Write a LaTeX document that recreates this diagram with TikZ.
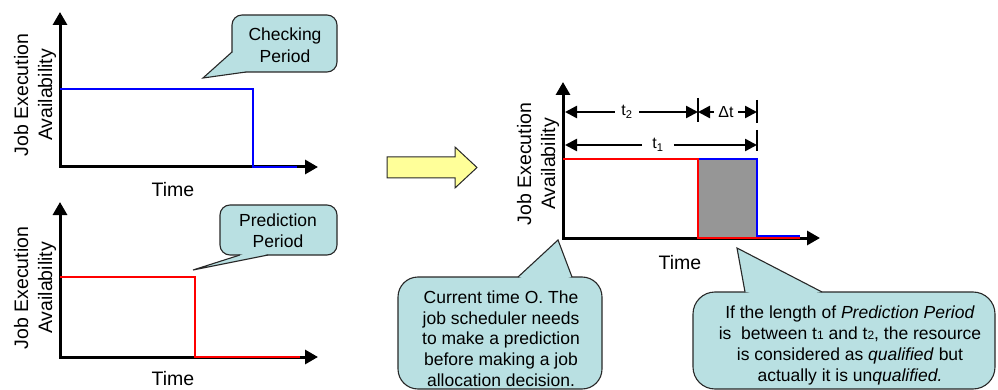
\documentclass[tikz,border=0pt]{standalone}
\usepackage{fontspec}
\setmainfont{Liberation Sans}
\usetikzlibrary{arrows.meta}

\definecolor{calloutfill}{RGB}{185,224,226}
\definecolor{arrowfill}{RGB}{255,255,153}
\definecolor{lossfill}{RGB}{150,150,150}
\definecolor{checkblue}{RGB}{0,0,255}
\definecolor{predred}{RGB}{255,0,0}
\definecolor{edgegray}{RGB}{40,40,40}

\tikzset{
  axis/.style={line width=3pt, line join=miter,
    {Triangle[length=13pt,width=14pt]}-{Triangle[length=13pt,width=14pt]}},
  availline/.style={line width=2.2pt, line join=miter},
  dimline/.style={line width=2.5pt, -{Triangle[length=12pt,width=12pt]}},
  tickline/.style={line width=1.2pt},
  axislabel/.style={font=\fontsize{19.5}{24}\selectfont, align=center, inner sep=0pt},
  ylabel/.style={axislabel, rotate=90},
  callbox/.style={fill=calloutfill, draw=edgegray, line width=1.1pt},
  calledge/.style={draw=edgegray, line width=1.1pt, line join=miter},
  calltext/.style={font=\fontsize{17.5}{20.7}\selectfont, align=center, inner sep=0pt},
  dimlabel/.style={font=\fontsize{16}{16}\selectfont, inner ysep=0pt},
}

\begin{document}
\begin{tikzpicture}[x=1pt,y=-1pt]
  \useasboundingbox (0,0) rectangle (998,390);
  \clip (0,0) rectangle (998,390);

  % ---------- checking period chart ----------
  \draw[axis] (60,12) -- (60,167) -- (318,167);
  \draw[availline, checkblue] (60,89) -- (253,89) -- (253,167) -- (297,167);
  \node[axislabel] (timeA) at (173,190) {Time};
  \node[ylabel] (yA) at (35,95) {Job Execution\\Availability};

  % callout: Checking Period
  \path[callbox, rounded corners=10pt] (232,15) rectangle (337,72);
  \coordinate (chkB1) at (232,52);
  \coordinate (chkTip) at (203,78);
  \coordinate (chkB2) at (246,72);
  \fill[calloutfill] (chkB1) -- (chkTip) -- (chkB2) -- (240,64) -- cycle;
  \draw[calledge] (chkB1) -- (chkTip) -- (chkB2);
  \node[calltext, font=\fontsize{17.5}{22}\selectfont] (chk) at (285,45) {Checking\\Period};

  % ---------- prediction period chart ----------
  \draw[axis] (60,202) -- (60,357) -- (318,357);
  \draw[availline, predred] (60,277) -- (195,277) -- (195,357) -- (300,357);
  \node[axislabel] (timeB) at (173,379) {Time};
  \node[ylabel] (yB) at (35,288) {Job Execution\\Availability};

  % callout: Prediction Period
  \path[callbox, rounded corners=10pt] (220,205) rectangle (337,255);
  \coordinate (preB1) at (240,255);
  \coordinate (preTip) at (193,270);
  \coordinate (preB2) at (268,255);
  \fill[calloutfill] (preB1) -- (preTip) -- (preB2) -- (254,251) -- cycle;
  \draw[calledge] (preB1) -- (preTip) -- (preB2);
  \node[calltext, font=\fontsize{17.5}{21}\selectfont] (pre) at (278,231) {Prediction\\Period};

  % ---------- transition arrow ----------
  \draw[fill=arrowfill, draw=edgegray, line width=1pt]
    (387,157) -- (455,157) -- (455,147) -- (477,167.5) -- (455,188) -- (455,178) -- (387,178) -- cycle;

  % ---------- combined chart ----------
  \fill[lossfill] (698,159) rectangle (757,238);
  \draw[axis] (563,82) -- (563,238) -- (820,238);
  \draw[availline, checkblue] (698,159) -- (757,159) -- (757,236) -- (800,236);
  \draw[availline, predred] (563,159) -- (698,159) -- (698,238) -- (800,238);
  \node[axislabel] (timeC) at (680,263) {Time};
  \node[ylabel] (yC) at (538,164) {Job Execution\\Availability};

  % dimension ticks
  \draw[tickline] (698,98) -- (698,122);
  \draw[tickline] (757,100) -- (757,123);
  \draw[tickline] (757,130) -- (757,151);

  % t2 and delta t
  \node[dimlabel, inner xsep=6.5pt] (t2lab) at (627,112) {t\textsubscript{2}};
  \draw[dimline] (t2lab.west) -- (565,112);
  \draw[dimline] (t2lab.east) -- (698,112);
  \node[dimlabel, inner xsep=4.5pt] (dtlab) at (726,112) {Δt};
  \draw[dimline] (dtlab.west) -- (698,112);
  \draw[dimline] (dtlab.east) -- (757,112);

  % t1
  \node[dimlabel, inner xsep=10pt] (t1lab) at (658,145) {t\textsubscript{1}};
  \draw[dimline] (t1lab.west) -- (565,145);
  \draw[dimline] (t1lab.east) -- (757,145);

  % callout: current time
  \path[callbox, rounded corners=20pt] (398,277) rectangle (602,389);
  \coordinate (nowB1) at (518,277);
  \coordinate (nowTip) at (558,240);
  \coordinate (nowB2) at (572,277);
  \fill[calloutfill] (nowB1) -- (nowTip) -- (nowB2) -- (545,283) -- cycle;
  \draw[calledge] (nowB1) -- (nowTip) -- (nowB2);
  \node[calltext] (now) at (501,338.5)
    {Current time O. The\\job scheduler needs\\to make a prediction\\before making a job\\allocation decision.};

  % callout: qualification remark
  \path[callbox, rounded corners=22pt] (693,292) rectangle (995,389);
  \coordinate (remB1) at (745,292);
  \coordinate (remTip) at (737,248);
  \coordinate (remB2) at (822,292);
  \fill[calloutfill] (remB1) -- (remTip) -- (remB2) -- (780,298) -- cycle;
  \draw[calledge] (remB1) -- (remTip) -- (remB2);
  \node[calltext, font=\fontsize{17.5}{21}\selectfont] (rem) at (850,345)
    {If the length of \textit{Prediction Period}\\
     is\ \ between t{\fontsize{12}{12}\selectfont 1} and t{\fontsize{12}{12}\selectfont 2}, the resource\\
     is considered as \textit{qualified} but\\
     actually it is un\textit{qualified.}};
\end{tikzpicture}
\end{document}
